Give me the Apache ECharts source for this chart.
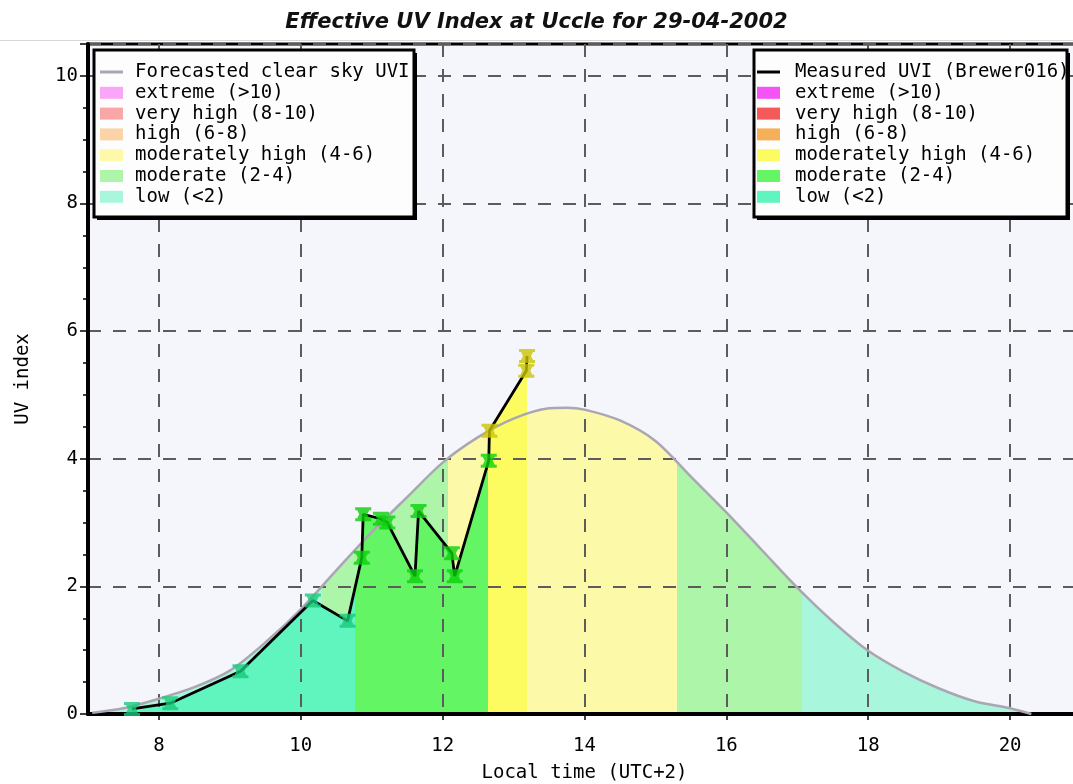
<!DOCTYPE html>
<html>
<head>
<meta charset="utf-8">
<script src="https://cdn.jsdelivr.net/npm/echarts@6/dist/echarts.min.js"></script>
<style>
html,body{margin:0;padding:0;background:#fff;}
#chart{width:1073px;height:784px;}
</style>
</head>
<body>
<div id="chart"></div>
<script>
// ---------------- data ----------------
const chartTitle = 'Effective UV Index at Uccle for 29-04-2002';
const xAxisName = 'Local time (UTC+2)';
const yAxisName = 'UV index';
const xTickValues = [8, 10, 12, 14, 16, 18, 20];
const yTickValues = [0, 2, 4, 6, 8, 10];

// forecasted clear sky UVI
const forecastTimes = [7.06, 7.5, 8.0, 8.5, 9.0, 9.5, 10.0, 10.5, 11.0, 11.5, 12.0, 12.5, 13.0, 13.5, 13.75, 14.0, 14.5, 15.0, 15.5, 16.0, 16.5, 17.0, 17.5, 18.0, 18.5, 19.0, 19.5, 20.0, 20.3];
const forecastUVI   = [0.02, 0.09, 0.24, 0.42, 0.68, 1.12, 1.64, 2.25, 2.85, 3.40, 3.94, 4.34, 4.63, 4.79, 4.80, 4.77, 4.60, 4.28, 3.72, 3.16, 2.57, 1.98, 1.45, 0.99, 0.66, 0.40, 0.20, 0.09, 0.0];

// measured UVI (Brewer016)
const measuredTimes = [7.62, 8.16, 9.15, 10.17, 10.66, 10.86, 10.88, 11.13, 11.22, 11.61, 11.66, 12.13, 12.17, 12.65, 12.66, 13.18, 13.19];
const measuredUVI   = [0.08, 0.17, 0.67, 1.78, 1.46, 2.45, 3.13, 3.06, 3.00, 2.16, 3.18, 2.52, 2.16, 3.97, 4.44, 5.38, 5.61];

// time limits where the colour class of the filled areas changes
const forecastBandEdges  = [10.3, 12.08, 15.3, 17.06];
const forecastBandLevels = ['low', 'moderate', 'modHigh', 'moderate', 'low'];
const measuredBandEdges  = [10.76, 12.645];
const measuredBandLevels = ['low', 'moderate', 'modHigh'];

// UVI class limits (for the marker colours)
const uviLevelEdges = [2, 4];
const uviLevelNames = ['low', 'moderate', 'modHigh'];

const legendLevelKeys = ['extreme', 'veryHigh', 'high', 'modHigh', 'moderate', 'low'];
const forecastLegendLabels = ['Forecasted clear sky UVI', 'extreme (>10)', 'very high (8-10)', 'high (6-8)', 'moderately high (4-6)', 'moderate (2-4)', 'low (<2)'];
const measuredLegendLabels = ['Measured UVI (Brewer016)', 'extreme (>10)', 'very high (8-10)', 'high (6-8)', 'moderately high (4-6)', 'moderate (2-4)', 'low (<2)'];

// ---------------- styles ----------------
const pastel = {extreme:'#f9a6f9', veryHigh:'#f9a6a6', high:'#fbd3a6', modHigh:'#fcfaa8', moderate:'#adf5a8', low:'#a8f7dc'};
const saturated = {extreme:'#f553f5', veryHigh:'#f55a5a', high:'#f7b05a', modHigh:'#fcfc60', moderate:'#64f564', low:'#60f5be'};
const markerColors = {low:'#18c97a', moderate:'#0bd00b', modHigh:'#c9c400'};
const forecastLineColor = '#aaa6b4';
const gridLineColor = '#5c5c5c';
const markerPath = 'path://M0,0 L16,0 L16,3 L14,3 L12,7 L14,11 L16,11 L16,14 L0,14 L0,11 L2,11 L4,7 L2,3 L0,3 Z';

// ---------------- build ----------------
function pairs(xs, ys) { return xs.map((x, i) => [x, ys[i]]); }
function bandPieces(edges, levels, palette) {
  return levels.map((lv, i) => {
    const p = {color: palette[lv]};
    if (i > 0) p.gte = edges[i - 1];
    if (i < levels.length - 1) p.lt = edges[i];
    return p;
  });
}
const forecastData = pairs(forecastTimes, forecastUVI);
const measuredData = pairs(measuredTimes, measuredUVI);

function legendBlock(x0, y0, w, h, labels, palette, firstColor, swatchX, textX) {
  const els = [];
  els.push({type:'rect', z:100, shape:{x:x0 + 3, y:y0 + 3, width:w, height:h}, style:{fill:'#000'}});
  els.push({type:'rect', z:101, shape:{x:x0, y:y0, width:w, height:h}, style:{fill:'#fdfdfd', stroke:'#000', lineWidth:3}});
  labels.forEach((lab, i) => {
    const cy = y0 + 22 + i * 20.8;
    if (i === 0) {
      els.push({type:'line', z:102, shape:{x1:swatchX, y1:cy, x2:swatchX + 23, y2:cy}, style:{stroke:firstColor, lineWidth:3}});
    } else {
      els.push({type:'rect', z:102, shape:{x:swatchX, y:cy - 6, width:23, height:12}, style:{fill:palette[legendLevelKeys[i - 1]]}});
    }
    els.push({type:'text', z:102, x:textX, y:cy, style:{text:lab, fontFamily:'DejaVu Sans Mono', fontSize:19, fill:'#000', verticalAlign:'middle', align:'left'}});
  });
  return els;
}

const chart = echarts.init(document.getElementById('chart'), null, {renderer:'canvas'});
const option = {
  backgroundColor: '#ffffff',
  animation: false,
  title: {
    text: chartTitle, left: 'center', top: 7,
    textStyle: {fontFamily:'DejaVu Sans', fontStyle:'italic', fontWeight:'bold', fontSize:21, color:'#111'}
  },
  grid: {
    left: 88, top: 44, width: 993, bottom: 70,
    show: true, backgroundColor: '#f5f5fc', borderColor: '#000', borderWidth: 3,
    containLabel: false, outerBoundsMode: 'none'
  },
  xAxis: {
    type: 'value', min: 7, max: 21, splitNumber: 7, z: 3,
    axisLine: {show: true, onZero: false, lineStyle: {color: '#000', width: 4}},
    axisTick: {show: true, customValues: xTickValues, length: 6, lineStyle: {color: '#000', width: 1.5}},
    axisLabel: {customValues: xTickValues, margin: 23, fontFamily: 'DejaVu Sans Mono', fontSize: 19, color: '#000'},
    splitLine: {show: true, lineStyle: {color: gridLineColor, width: 2, type: [13, 12]}},
    name: xAxisName, nameLocation: 'middle', nameGap: 50,
    nameTextStyle: {fontFamily: 'DejaVu Sans Mono', fontSize: 19, color: '#000'}
  },
  yAxis: {
    type: 'value', min: 0, max: 10.5, interval: 2, z: 3,
    axisLine: {show: true, onZero: false, lineStyle: {color: '#000', width: 4}},
    axisTick: {show: true, length: 8, lineStyle: {color: '#000', width: 1.5}},
    minorTick: {show: true, splitNumber: 4, length: 5, lineStyle: {color: '#000', width: 1.5}},
    axisLabel: {customValues: yTickValues, margin: 10, fontFamily: 'DejaVu Sans Mono', fontSize: 19, color: '#000'},
    splitLine: {show: true, lineStyle: {color: gridLineColor, width: 2, type: [13, 12]}},
    name: yAxisName, nameLocation: 'middle', nameRotate: 90, nameGap: 55,
    nameTextStyle: {fontFamily: 'DejaVu Sans Mono', fontSize: 19, color: '#000'}
  },
  visualMap: [
    {type: 'piecewise', show: false, seriesIndex: 0, dimension: 0, pieces: bandPieces(forecastBandEdges, forecastBandLevels, pastel)},
    {type: 'piecewise', show: false, seriesIndex: 1, dimension: 0, pieces: bandPieces(measuredBandEdges, measuredBandLevels, saturated)},
    {type: 'piecewise', show: false, seriesIndex: 4, dimension: 1, pieces: bandPieces(uviLevelEdges, uviLevelNames, markerColors)}
  ],
  series: [
    {name: 'forecastArea', type: 'line', data: forecastData, smooth: 0.3, symbol: 'none', z: 1, silent: true,
     lineStyle: {width: 0, opacity: 0}, areaStyle: {opacity: 1}},
    {name: 'measuredArea', type: 'line', data: measuredData, symbol: 'none', z: 2, silent: true,
     lineStyle: {width: 0, opacity: 0}, areaStyle: {opacity: 1}},
    {name: 'Forecasted clear sky UVI', type: 'line', data: forecastData, smooth: 0.3, symbol: 'none', z: 4,
     lineStyle: {color: forecastLineColor, width: 2.5}, itemStyle: {color: forecastLineColor}},
    {name: 'Measured UVI (Brewer016)', type: 'line', data: measuredData, symbol: 'none', z: 5,
     lineStyle: {color: '#000', width: 2.8}, itemStyle: {color: '#000'}},
    {name: 'measuredMarkers', type: 'scatter', data: measuredData, symbol: markerPath, symbolSize: [16, 14], z: 6}
  ],
  graphic: {
    elements: [
      {type: 'line', z: 0, shape: {x1: 0, y1: 40.5, x2: 1073, y2: 40.5}, style: {stroke: '#d8d8d8', lineWidth: 1}}
    ].concat(
      legendBlock(94, 50, 320, 167, forecastLegendLabels, pastel, forecastLineColor, 100, 135),
      legendBlock(754, 50, 313, 167, measuredLegendLabels, saturated, '#000', 757, 795)
    )
  }
};
chart.setOption(option);
</script>
</body>
</html>
